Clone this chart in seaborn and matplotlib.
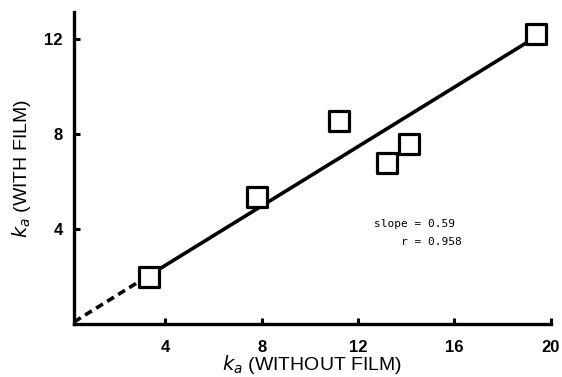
#!/usr/bin/env python3
"""Scatter of k_a with film vs without film, with the fitted line"""

import matplotlib

matplotlib.use("Agg")
import matplotlib.pyplot as plt
import pandas as pd
import seaborn as sns

###########################################################
# Data
###########################################################

ka_without = [3.3, 7.8, 11.2, 13.2, 14.1, 19.4]
ka_with = [2.0, 5.35, 8.55, 6.8, 7.6, 12.25]

# regression line: dashed extrapolation to the origin, solid over the data
fit_dash_x = [0.2, 3.3]
fit_dash_y = [0.1, 2.05]
fit_solid_x = [3.3, 19.3]
fit_solid_y = [2.05, 12.05]

x_ticks = [4, 8, 12, 16, 20]
y_ticks = [4, 8, 12]

slope_text = "slope = 0.59"
r_text = "r = 0.958"

###########################################################
# Main
###########################################################


def main():
    sns.set_style(
        "ticks",
        {"axes.edgecolor": "black", "text.color": "black",
         "xtick.color": "black", "ytick.color": "black",
         "axes.labelcolor": "black"},
    )
    plt.rcParams["font.family"] = ["Liberation Sans", "DejaVu Sans"]

    df = pd.DataFrame({"without": ka_without, "with": ka_with})
    dash = pd.DataFrame({"x": fit_dash_x, "y": fit_dash_y})
    solid = pd.DataFrame({"x": fit_solid_x, "y": fit_solid_y})

    fig = plt.figure(figsize=(5.62, 3.77), dpi=100)
    ax = fig.add_axes([0.1317, 0.1398, 0.848, 0.828])

    sns.lineplot(data=solid, x="x", y="y", color="black", linewidth=2.6, ax=ax)
    sns.lineplot(
        data=dash, x="x", y="y", color="black", linewidth=2.6,
        linestyle=(0, (2.2, 1.4)), ax=ax,
    )
    sns.scatterplot(
        data=df, x="without", y="with", marker="s", s=200,
        facecolor="white", edgecolor="black", linewidth=2.3,
        zorder=5, clip_on=False, ax=ax,
    )

    ax.set_xlim(0.2, 20)
    ax.set_ylim(0, 13.15)
    ax.set_xticks(x_ticks)
    ax.set_yticks(y_ticks)
    ax.tick_params(direction="in", length=4, width=2.2, labelsize=12)
    ax.tick_params(axis="x", pad=11)
    ax.tick_params(axis="y", pad=8)
    for lab in ax.get_xticklabels() + ax.get_yticklabels():
        lab.set_fontweight("bold")

    sns.despine(ax=ax)
    for side in ("left", "bottom"):
        ax.spines[side].set_linewidth(2.4)

    ax.set_xlabel("$k_a$ (WITHOUT FILM)", fontsize=14, labelpad=-1)
    ax.set_ylabel("$k_a$ (WITH FILM)", fontsize=14, labelpad=8)

    ax.text(
        455 / 562, 1 - 224 / 377, slope_text, transform=fig.transFigure,
        fontsize=8, family="DejaVu Sans Mono", ha="right", va="center",
    )
    ax.text(
        462 / 562, 1 - 242 / 377, r_text, transform=fig.transFigure,
        fontsize=8, family="DejaVu Sans Mono", ha="right", va="center",
    )

    fig.savefig("out.png", dpi=100)


if __name__ == "__main__":
    main()
